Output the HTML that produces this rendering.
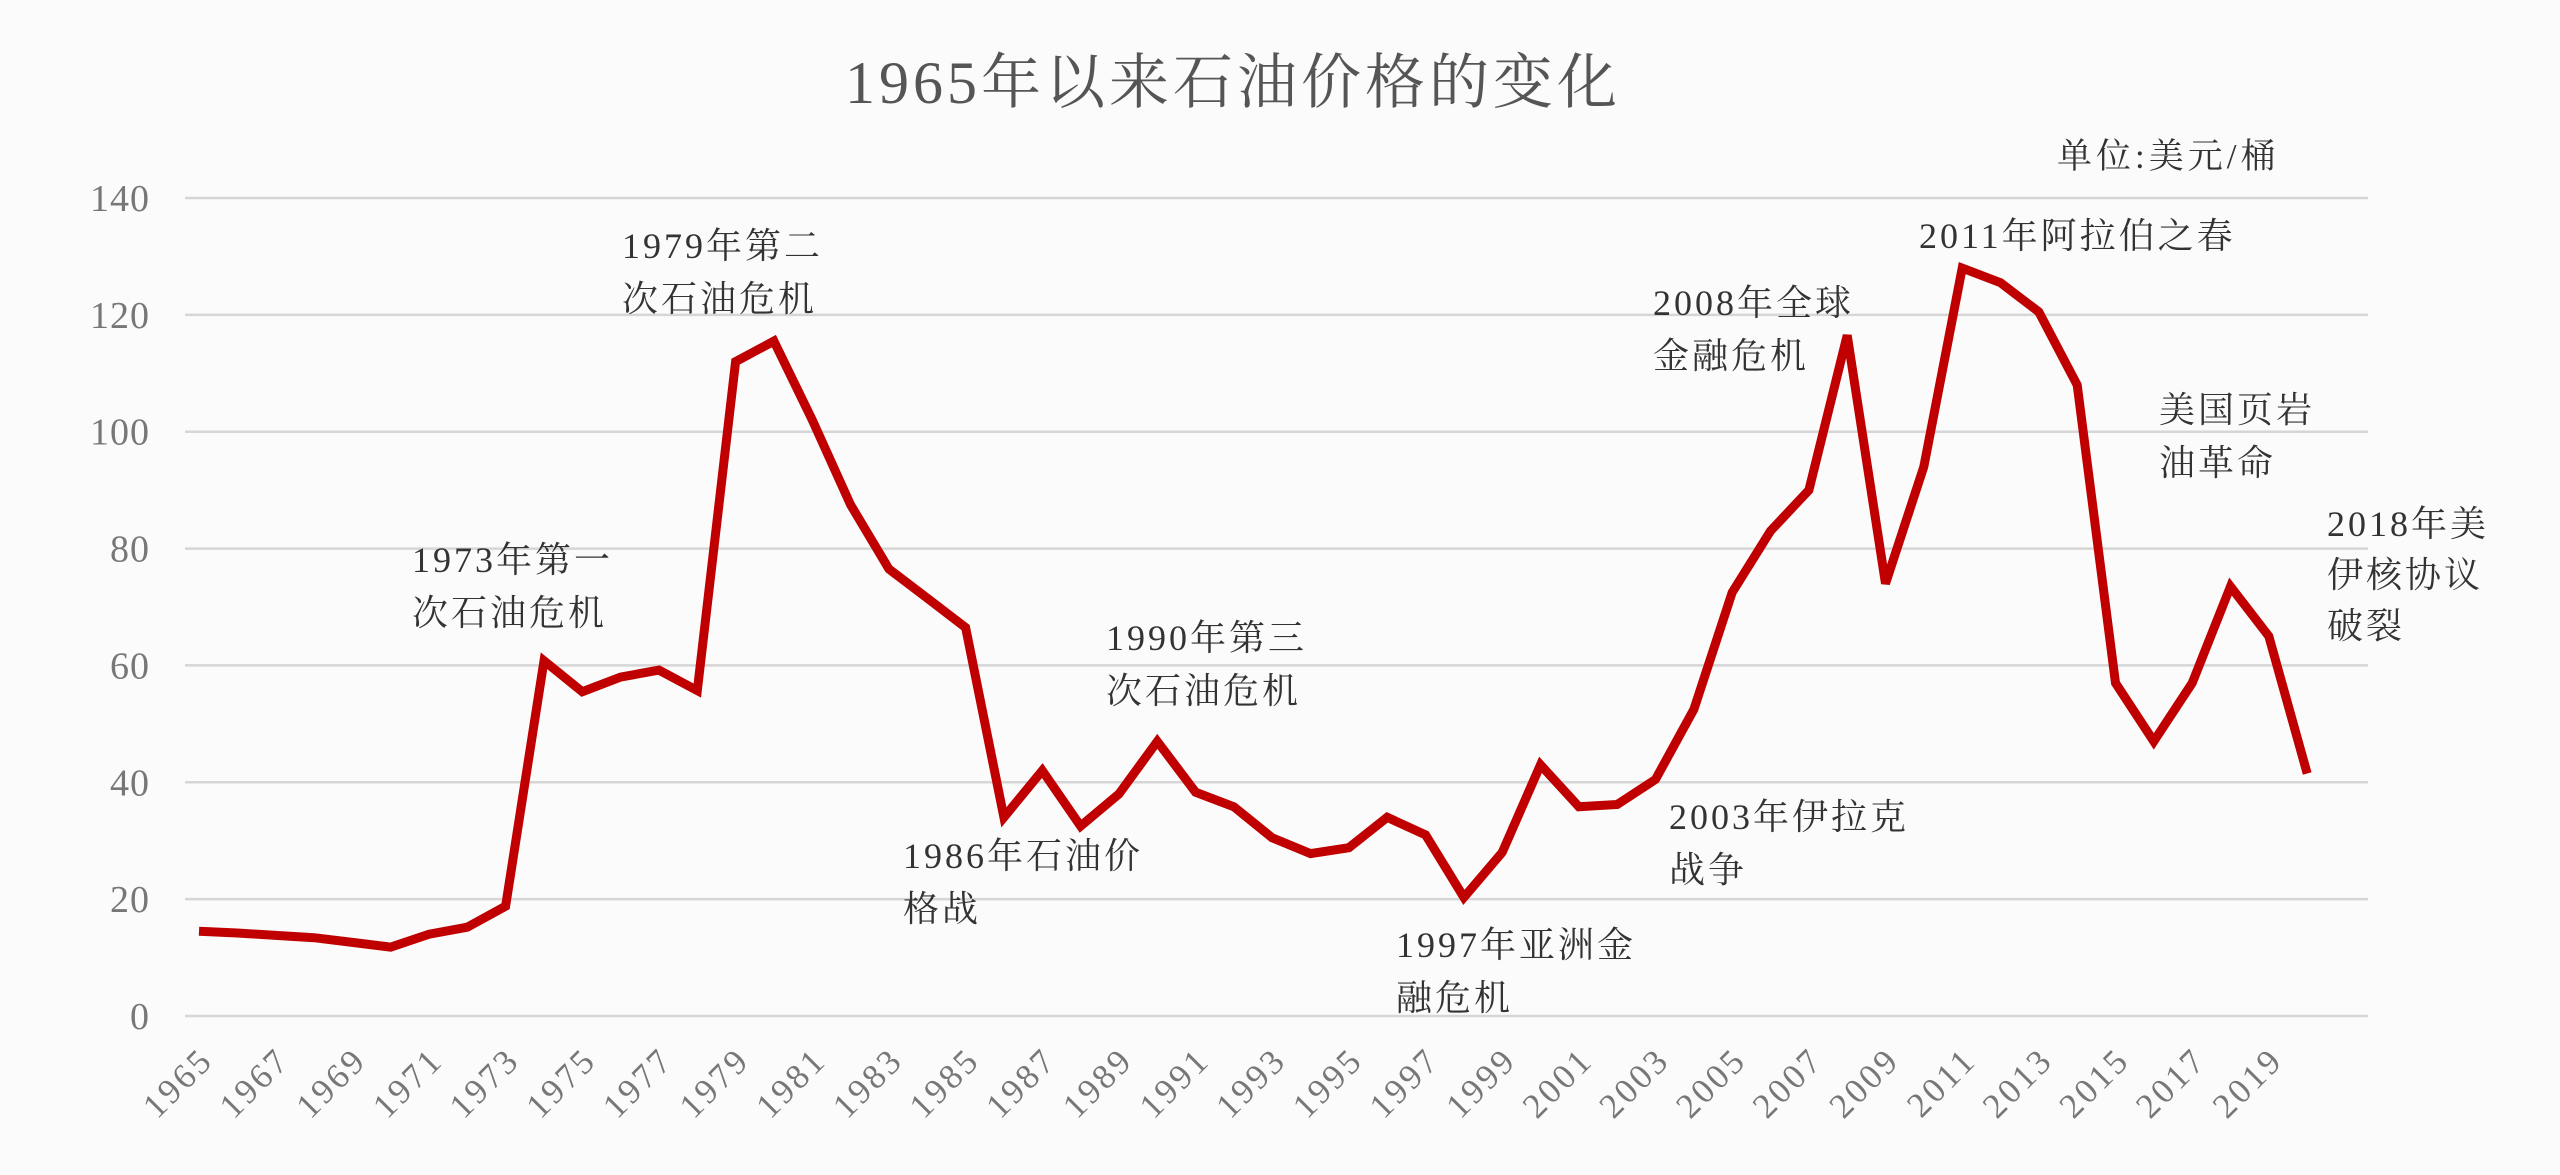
<!DOCTYPE html>
<html><head><meta charset="utf-8"><style>
html,body{margin:0;padding:0;background:#fbfbfb;}
svg{display:block;}
text{font-family:"Liberation Serif","Noto Serif CJK SC","Noto Sans CJK SC",serif;}
</style></head><body>
<svg id="chart" width="2560" height="1175" viewBox="0 0 2560 1175" xmlns="http://www.w3.org/2000/svg">
<rect width="2560" height="1175" fill="#fbfbfb"/>
<text x="1233" y="103" font-size="60" letter-spacing="4" fill="#555" text-anchor="middle">1965年以来石油价格的变化</text>
<text x="2057" y="168" font-size="35" letter-spacing="4" fill="#333">单位:美元/桶</text>
<g id="grid"></g><g id="yticks"></g><g id="xticks"></g><g id="series"></g><g id="notes"></g>
</svg>
<script>
const years = [];
for (let y = 1965; y <= 2020; y++) years.push(y);
const prices = [14.5,14.2,13.8,13.4,12.6,11.8,14,15.2,18.8,60.8,55.5,58,59.2,55.7,112,115.5,102,87.5,76.5,71.5,66.5,34,42,32.5,38,47,38.3,35.8,30.5,27.8,28.8,34,31,20.3,28,43,35.8,36.2,40.5,52.5,72.5,83,90,116.5,74,94,128,125.5,120.5,108,57,47,57,73.5,65,41.5];
const yTicks = [0,20,40,60,80,100,120,140];
const noteText = [["1973年第一","次石油危机"],["1979年第二","次石油危机"],["1986年石油价","格战"],["1990年第三","次石油危机"],["1997年亚洲金","融危机"],["2003年伊拉克","战争"],["2008年全球","金融危机"],["2011年阿拉伯之春"],["美国页岩","油革命"],["2018年美","伊核协议","破裂"]];
const noteX = [412,622,903,1106,1396,1669,1653,1919,2159,2327];
const noteY = [572,258,868,650,957,829,315,248,422,536];

const NS = "http://www.w3.org/2000/svg";
const x0 = 199, xStep = 38.33, yZero = 1016, yTop = 198;
const xs = yr => x0 + (yr - 1965) * xStep;
const ys = v => yZero - v * (yZero - yTop) / 140;
function mk(tag, attrs, parent, txt){const e=document.createElementNS(NS,tag);for(const k in attrs)e.setAttribute(k,attrs[k]);if(txt!==undefined)e.textContent=txt;parent.appendChild(e);return e;}

const grid=document.getElementById('grid'), yt=document.getElementById('yticks'), xt=document.getElementById('xticks');
yTicks.forEach(v=>{
  const l=mk('line',{x1:185,x2:2368,y1:ys(v),y2:ys(v),stroke:'#d6d6d6','stroke-width':2.5},grid);
  
  
  const t=mk('text',{x:150,y:ys(v)+13,'font-size':38,'letter-spacing':1,fill:'#777','text-anchor':'end'},yt,String(v));
  
  
});
years.forEach(yr=>{
  if((yr-1965)%2!==0) return;
  const x=xs(yr)+16, y=1062;
  const t=mk('text',{x:x,y:y,'font-size':35,'letter-spacing':3,fill:'#777','text-anchor':'end',transform:`rotate(-45 ${x} ${y})`},xt,String(yr));
  
  
});
const pts=prices.map((p,i)=>xs(years[i]).toFixed(1)+','+ys(p).toFixed(1)).join(' ');
const line=mk('polyline',{points:pts,fill:'none',stroke:'#c00000','stroke-width':9,'stroke-linejoin':'miter','stroke-miterlimit':3},document.getElementById('series'));


const notes=document.getElementById('notes');
noteText.forEach((lines,i)=>{
  const g=mk('g',{},notes);
  
  
  const sp = i===9 ? 51 : 53;
  lines.forEach((s,j)=>mk('text',{x:noteX[i],y:noteY[i]+j*sp,'font-size':36,'letter-spacing':3,fill:'#333'},g,s));
});
</script>
</body></html>
